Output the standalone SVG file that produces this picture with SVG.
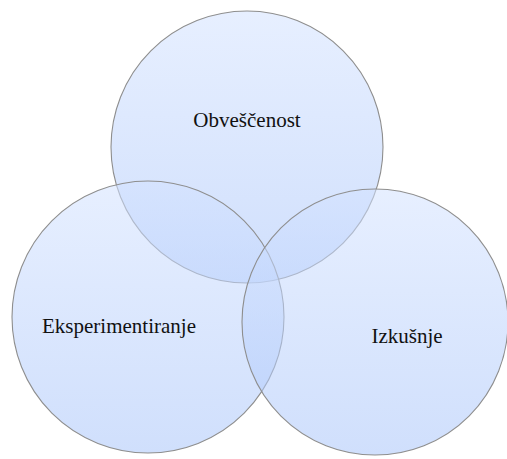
<svg xmlns="http://www.w3.org/2000/svg" width="507" height="459" viewBox="0 0 507 459">
<defs>
<linearGradient id="g" x1="0" y1="0" x2="0" y2="1">
<stop offset="0" stop-color="#d3e2ff"/>
<stop offset="1" stop-color="#a9c5fa"/>
</linearGradient>
<style>
.c{fill:url(#g);fill-opacity:0.55;stroke:#8e8e8e;stroke-width:1.1}
.t{font-family:"Liberation Serif","Times New Roman",serif;font-size:21px;fill:#111;text-anchor:middle}
</style>
</defs>
<rect width="507" height="459" fill="#ffffff"/>
<g id="obvescenost">
<circle class="c" cx="247" cy="147" r="136"/>
<text class="t" x="247" y="127">Obveščenost</text>
</g>
<g id="eksperimentiranje">
<circle class="c" cx="148" cy="317" r="136"/>
<text class="t" x="119" y="333">Eksperimentiranje</text>
</g>
<g id="izkusnje">
<circle class="c" cx="375" cy="322" r="133"/>
<text class="t" x="407" y="343">Izkušnje</text>
</g>
<g id="connectors"/>
</svg>
